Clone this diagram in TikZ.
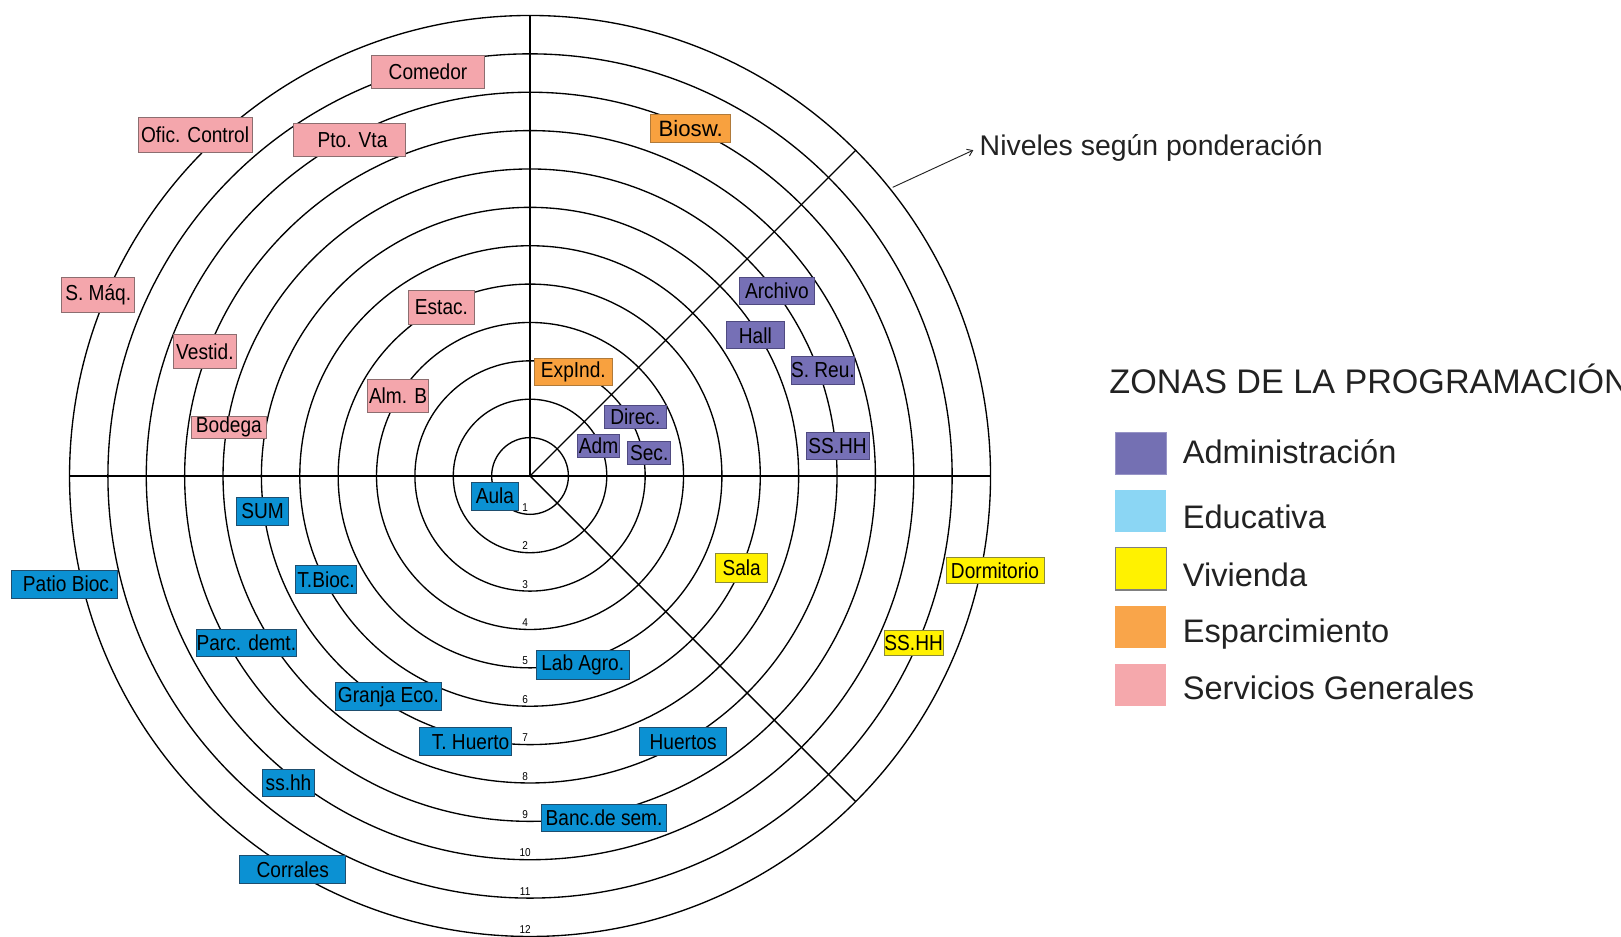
\documentclass[tikz,border=0pt]{standalone}
\usepackage{fontspec}
\setmainfont{Liberation Sans}
\newfontfamily\nodefont[FakeStretch=0.88]{Liberation Sans}
\usetikzlibrary{arrows.meta}
\definecolor{sgfill}{HTML}{F4A6AC}
\definecolor{sgdraw}{HTML}{8C6E70}
\definecolor{edfill}{HTML}{0B91D3}
\definecolor{eddraw}{HTML}{1F4E6E}
\definecolor{adfill}{HTML}{7670B6}
\definecolor{addraw}{HTML}{4F4A80}
\definecolor{esfill}{HTML}{F8A13F}
\definecolor{esdraw}{HTML}{B07A3A}
\definecolor{vifill}{HTML}{FFF100}
\definecolor{vidraw}{HTML}{8B8A3A}
\definecolor{lgadm}{HTML}{7470B3}
\definecolor{lgedu}{HTML}{8BD6F4}
\definecolor{lgviv}{HTML}{FFF200}
\definecolor{lgesp}{HTML}{F9A54A}
\definecolor{lgser}{HTML}{F5A8AC}
\definecolor{txt}{HTML}{222222}
\tikzset{
  grid/.style={line width=1.3pt, black},
  roombox/.style={inner sep=0pt, line width=0.8pt, text=black,
    font=\nodefont\fontsize{21}{21}\selectfont},
  sg/.style={roombox, fill=sgfill, draw=sgdraw},
  ed/.style={roombox, fill=edfill, draw=eddraw},
  ad/.style={roombox, fill=adfill, draw=addraw},
  es/.style={roombox, fill=esfill, draw=esdraw},
  vi/.style={roombox, fill=vifill, draw=vidraw},
  numlab/.style={inner sep=0pt, text=black, font=\nodefont\fontsize{11}{11}\selectfont},
  legsq/.style={minimum width=49pt, minimum height=41pt, inner sep=0pt},
  legtxt/.style={anchor=base west, inner sep=0pt, text=txt, font=\fontsize{31.5}{31.5}\selectfont},
}
\begin{document}
\begin{tikzpicture}[x=1pt,y=-1pt]
\clip (0,0) rectangle (1568,906);
\fill[white] (0,0) rectangle (1568,906);
\coordinate (c) at (512.7,460.4);
% rings
\foreach \k in {1,...,12} {
  \draw[grid] (c) circle[radius={\k*37.12pt}];
}
\coordinate (top) at (512.7,14.9);
\coordinate (left) at (67.2,460.4);
\coordinate (right) at (958.2,460.4);
\coordinate (ne) at (827.7,145.4);
\coordinate (se) at (827.7,775.4);
\draw[grid] (c) -- (top);
\draw[grid] (left) -- (right);
\draw[grid] (c) -- (ne);
\draw[grid] (c) -- (se);
% level numbers
\foreach \k in {1,...,12} {
  \node[numlab] (n\k) at (508,{460.4+37.12*\k-6.5}) {\k};
}
% Servicios generales
\node[sg, minimum width=109pt, minimum height=32pt] (comedor) at (414,69.3) {Comedor};
\node[sg, minimum width=110pt, minimum height=34pt] (ofic) at (188.7,130.4) {Ofic. Control};
\node[sg, minimum width=109pt, minimum height=32pt] (pto) at (338,135.4) {\hspace*{6pt}Pto. Vta};
\node[sg, minimum width=71pt, minimum height=33.5pt] (smaq) at (95,285.3) {S. Máq.};
\node[sg, minimum width=60pt, minimum height=33pt] (vestid) at (198.2,339.8) {Vestid.};
\node[sg, minimum width=73pt, minimum height=22pt] (bodega) at (221.4,413.4) {Bodega};
\node[sg, minimum width=64pt, minimum height=32.5pt] (estac) at (427,297.5) {Estac.};
\node[sg, minimum width=59pt, minimum height=32.6pt] (almb) at (385,383) {Alm. B};
% Esparcimiento
\node[es, minimum width=77pt, minimum height=28pt, font=\fontsize{21.5}{21.5}\selectfont] (biosw) at (668.1,124.2) {Biosw.};
\node[es, minimum width=76pt, minimum height=26.5pt] (expind) at (554.6,359.8) {ExpInd.};
% Administracion
\node[ad, minimum width=73pt, minimum height=26pt] (archivo) at (751.5,281.2) {Archivo};
\node[ad, minimum width=55.5pt, minimum height=26pt] (hall) at (730.6,324.3) {Hall};
\node[ad, minimum width=60pt, minimum height=27pt] (sreu) at (796,358.4) {S. Reu.};
\node[ad, minimum width=61pt, minimum height=26.5pt] (sshha) at (810.2,431.1) {SS.HH};
\node[ad, minimum width=60.6pt, minimum height=22pt] (direc) at (614.6,403) {Direc.};
\node[ad, minimum width=40pt, minimum height=22pt] (adm) at (579,431.6) {Adm};
\node[ad, minimum width=41.5pt, minimum height=22pt] (sec) at (628,438.2) {Sec.};
% Educativa
\node[ed, minimum width=45.6pt, minimum height=26.8pt] (aula) at (478.8,480) {Aula};
\node[ed, minimum width=50pt, minimum height=26.8pt] (sum) at (254,494.4) {SUM};
\node[ed, minimum width=103pt, minimum height=27.4pt] (patio) at (62.4,565.1) {\hspace*{8pt}Patio Bioc.};
\node[ed, minimum width=59.6pt, minimum height=26.8pt] (tbioc) at (315.4,560.6) {T.Bioc.};
\node[ed, minimum width=97pt, minimum height=26.8pt] (parc) at (238.3,621.8) {Parc. demt.};
\node[ed, minimum width=102.3pt, minimum height=27.4pt] (granja) at (375.7,673.7) {Granja Eco.};
\node[ed, minimum width=89.6pt, minimum height=27pt] (thuerto) at (450.2,717.5) {\hspace*{10pt}T. Huerto};
\node[ed, minimum width=51pt, minimum height=26.8pt] (sshhc) at (279.1,757.2) {ss.hh};
\node[ed, minimum width=102.5pt, minimum height=26.8pt] (corrales) at (283.2,841.1) {Corrales};
\node[ed, minimum width=90pt, minimum height=27.4pt] (labagro) at (563.7,643.1) {Lab Agro.};
\node[ed, minimum width=84pt, minimum height=27pt] (huertos) at (660.8,717.5) {Huertos};
\node[ed, minimum width=120.5pt, minimum height=26.5pt] (banc) at (584.3,791.2) {Banc.de sem.};
% Vivienda
\node[vi, minimum width=50.6pt, minimum height=28pt] (sala) at (717.4,549.3) {Sala};
\node[vi, minimum width=95pt, minimum height=25.2pt] (dormitorio) at (962.5,551.7) {Dormitorio};
\node[vi, minimum width=57.4pt, minimum height=24.8pt] (sshhb) at (883.8,621.8) {SS.HH};
% niveles annotation
\node[anchor=base west, inner sep=0pt, text=txt, font=\fontsize{27.5}{27.5}\selectfont] (niv) at (947.5,150.5) {Niveles según ponderación};
\coordinate (arrstart) at (863.5,181.2);
\draw[line width=0.9pt, draw=txt, -{Straight Barb[length=5pt,width=7pt]}] (arrstart) -- ([xshift=-6pt,yshift=-2pt]niv.west);
% legend
\node[anchor=base west, inner sep=0pt, text=txt, font=\fontsize{33}{33}\selectfont] (title) at (1073,380.7) {ZONAS DE LA PROGRAMACIÓN};
\node[legsq, fill=lgadm, draw=lgadm!75!white, line width=0.8pt] (sqadm) at (1103.5,438.5) {};
\node[legsq, fill=lgedu] (sqedu) at (1103.5,494) {};
\node[legsq, fill=lgviv, draw=gray, line width=1pt] (sqviv) at (1103.5,550.2) {};
\node[legsq, fill=lgesp] (sqesp) at (1103.5,606.6) {};
\node[legsq, fill=lgser] (sqser) at (1103.5,662.3) {};
\node[legtxt] (ladm) at (1144,448) {Administración};
\node[legtxt] (ledu) at (1144,511) {Educativa};
\node[legtxt] (lviv) at (1144,567.2) {Vivienda};
\node[legtxt] (lesp) at (1144,621) {Esparcimiento};
\node[legtxt] (lser) at (1144,676.2) {Servicios Generales};
\end{tikzpicture}
\end{document}
